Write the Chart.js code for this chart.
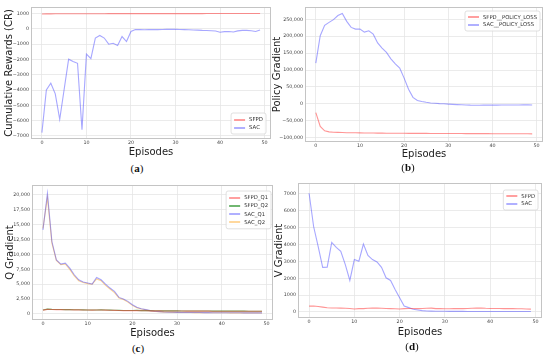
<!DOCTYPE html>
<html>
<head>
<meta charset="utf-8">
<script src="https://cdn.jsdelivr.net/npm/chart.js@4.4.1/dist/chart.umd.min.js"></script>
<style>
  html,body{margin:0;padding:0;background:#fff;}
  body{width:550px;height:356px;position:relative;overflow:hidden;}
  canvas{position:absolute;}
  .cap{position:absolute;font-family:"Liberation Serif","DejaVu Serif",serif;font-size:11px;color:#111;transform:translate(-50%,-50%);white-space:nowrap;}
</style>
</head>
<body>
<canvas id="ca" width="275" height="158" style="left:0;top:0"></canvas>
<canvas id="cb" width="282" height="160" style="left:268px;top:0"></canvas>
<canvas id="cc" width="275" height="161" style="left:0;top:178px"></canvas>
<canvas id="cd" width="282" height="160" style="left:268px;top:178px"></canvas>
<div class="cap" style="left:137px;top:168px">(<b>a</b>)</div>
<div class="cap" style="left:408px;top:167px">(<b>b</b>)</div>
<div class="cap" style="left:138px;top:348px">(<b>c</b>)</div>
<div class="cap" style="left:412px;top:346px">(<b>d</b>)</div>
<script>
// ---------- DATA ----------
const episodes = [0,1,2,3,4,5,6,7,8,9,10,11,12,13,14,15,16,17,18,19,20,21,22,23,24,25,26,27,28,29,30,31,32,33,34,35,36,37,38,39,40,41,42,43,44,45,46,47,48,49];
const xTicks = [0,10,20,30,40,50];

// (a) Cumulative Rewards
const sfpdReward = [975,980,982,985,985,987,988,988,990,990,990,992,992,993,993,994,994,995,995,995,996,996,996,997,997,997,998,998,998,998,999,999,999,1000,1000,1000,1000,1001,1001,1001,1002,1002,1002,1003,1003,1003,1004,1004,1005,1005];
const sacReward = [-6780,-3990,-3550,-4250,-5910,-3950,-1980,-2130,-2250,-6600,-1650,-1950,-600,-430,-600,-1000,-940,-1090,-500,-830,-170,-40,-50,-55,-50,-45,-50,-40,-35,-30,-20,-40,-50,-60,-70,-80,-100,-110,-120,-140,-220,-180,-170,-200,-130,-100,-100,-120,-170,-80];
const yTicksA = [-7000,-6000,-5000,-4000,-3000,-2000,-1000,0,1000];

// (b) Policy Gradient
const sfpdPolicy = [-26000,-67000,-80000,-83000,-84000,-84500,-85000,-85500,-85500,-85800,-86000,-86200,-86400,-86500,-86600,-86800,-87000,-87000,-87200,-87300,-87300,-87400,-87500,-87500,-87600,-87600,-87700,-87700,-87800,-87800,-87900,-87900,-88000,-88000,-88100,-88100,-88200,-88200,-88300,-88300,-88400,-88400,-88500,-88500,-88600,-88600,-88700,-88700,-88800,-88900];
const sacPolicy = [120500,201600,232000,241000,249000,261000,267000,244000,226000,221000,221000,212000,216000,206000,180000,165000,152000,133000,118000,106000,76000,43000,19000,10000,7000,4500,2500,1500,500,0,-1000,-1800,-2500,-3000,-3500,-4000,-4200,-4200,-4000,-4000,-3800,-3800,-3600,-3500,-3500,-3500,-3400,-3300,-3300,-3400];
const yTicksB = [-100000,-50000,0,50000,100000,150000,200000,250000];

// (c) Q Gradient
const sfpdQ1 = [650,780,760,740,730,720,710,700,690,680,660,650,660,670,650,630,600,580,570,560,560,570,550,540,530,520,520,510,510,500,500,500,490,490,490,480,480,480,470,470,470,470,460,460,460,460,450,450,450,450];
const sfpdQ2 = [680,820,780,760,750,740,730,720,710,700,680,670,680,690,670,650,620,600,590,580,590,600,570,560,550,540,540,530,530,520,520,515,510,510,505,500,500,495,490,490,490,485,480,480,475,475,470,470,470,465];
const sacQ1 = [14130,20280,12180,9100,8380,8550,7710,6590,5750,5360,5200,5030,6150,5750,5030,4360,3800,2790,2510,2120,1560,1120,890,730,560,450,390,330,300,280,270,260,250,250,240,240,230,230,220,220,210,210,200,200,200,190,190,190,180,180];
const sacQ2 = [14400,19600,11900,9000,8300,8400,7500,6400,5600,5300,5100,5000,5900,5600,4800,4200,3600,2700,2450,2000,1450,1050,850,700,540,430,370,320,290,270,260,250,240,240,230,230,220,220,210,210,200,200,195,195,190,185,185,180,180,175];
const yTicksC = [0,2500,5000,7500,10000,12500,15000,17500,20000];

// (d) V Gradient
const sfpdV = [350,360,330,290,250,240,240,230,220,210,180,200,200,220,230,230,220,210,200,190,180,200,210,210,200,210,220,230,200,200,190,190,200,210,200,210,220,230,240,220,210,210,210,200,200,200,190,190,180,170];
const sacV = [7040,5070,3890,2650,2660,4130,3830,3600,2810,1870,3110,3010,4030,3360,3110,2970,2650,2030,1870,1340,850,350,260,160,120,80,60,50,45,40,40,38,36,35,34,33,32,32,31,30,30,30,29,29,28,28,28,27,27,27];
const yTicksD = [0,1000,2000,3000,4000,5000,6000,7000];

// ---------- STYLE ----------
const RED = 'rgba(255,60,60,0.55)';
const BLUE = 'rgba(60,60,255,0.45)';
const GREEN = 'rgba(30,140,30,0.7)';
const ORANGE = 'rgba(255,170,40,0.5)';
const FONT = '"DejaVu Sans", sans-serif';
const MINUS = '\u2212';

const framePlugin = {
  id: 'frame',
  beforeDatasetsDraw(chart) {
    const {ctx, chartArea: a} = chart;
    ctx.save();
    ctx.strokeStyle = '#c4c4c4';
    ctx.lineWidth = 1;
    ctx.strokeRect(Math.round(a.left) + 0.5, Math.round(a.top) + 0.5, Math.round(a.right - a.left) - 1, Math.round(a.bottom - a.top) - 1);
    ctx.restore();
  }
};

const legendPlugin = {
  id: 'inlegend',
  afterDraw(chart, args, o) {
    const {ctx, chartArea: a} = chart;
    const ds = chart.data.datasets;
    ctx.save();
    ctx.font = o.fontSize + 'px ' + FONT;
    const handle = 11, gap = 4, padX = 3, padY = 2.5, rowH = o.rowH;
    const tw = Math.max(...ds.map(d => ctx.measureText(d.label).width));
    const w = padX * 2 + handle + gap + tw;
    const h = padY * 2 + rowH * ds.length;
    const x = o.right ? a.right - o.dx - w : a.left + o.dx;
    const y = o.bottom ? a.bottom - o.dy - h : a.top + o.dy;
    ctx.fillStyle = 'rgba(255,255,255,0.85)';
    ctx.strokeStyle = '#d8d8d8';
    ctx.lineWidth = 0.8;
    ctx.beginPath();
    ctx.roundRect(x, y, w, h, 2);
    ctx.fill();
    ctx.stroke();
    ds.forEach((d, i) => {
      const cy = y + padY + rowH * (i + 0.5);
      ctx.strokeStyle = d.borderColor;
      ctx.lineWidth = 1.8;
      ctx.beginPath();
      ctx.moveTo(x + padX, Math.round(cy));
      ctx.lineTo(x + padX + handle, Math.round(cy));
      ctx.stroke();
      ctx.fillStyle = '#333';
      ctx.textBaseline = 'middle';
      ctx.fillText(d.label, x + padX + handle + gap, cy + 0.3);
    });
    ctx.restore();
  }
};

function fmtComma(v) {
  const s = Math.abs(v).toLocaleString('en-US');
  return v < 0 ? MINUS + s : s;
}
function fmtPlain(v) {
  return v < 0 ? MINUS + Math.abs(v) : String(v);
}

function makeChart(id, cfg) {
  const el = document.getElementById(id);
  const W = el.width, H = el.height;
  const datasets = cfg.series.map(s => ({
    label: s.label, data: s.data, borderColor: s.color, backgroundColor: s.color,
    borderWidth: 1.1, pointRadius: 0, tension: 0, fill: false
  }));
  return new Chart(el, {
    type: 'line',
    data: { labels: episodes, datasets },
    plugins: [framePlugin, legendPlugin],
    options: {
      responsive: false, animation: false, devicePixelRatio: 1,
      layout: { padding: { left: 0, top: cfg.plotTop, right: W - cfg.plotRight, bottom: 0 } },
      plugins: {
        legend: { display: false }, tooltip: { enabled: false },
        inlegend: cfg.legend
      },
      scales: {
        x: {
          type: 'linear', min: -2.45, max: 51.45,
          afterBuildTicks: s => { s.ticks = xTicks.map(v => ({ value: v })); },
          afterFit: s => { s.height = H - cfg.plotBottom; },
          grid: { color: '#e6e6e6', lineWidth: 0.8, drawTicks: false },
          border: { display: false },
          ticks: { font: { family: FONT, size: 4.8 }, color: '#444', padding: 1, maxRotation: 0, callback: v => String(v) },
          title: { display: true, text: 'Episodes', font: { family: FONT, size: 10 }, color: '#222', padding: { top: 0, bottom: 0 } }
        },
        y: {
          type: 'linear', min: cfg.yMin, max: cfg.yMax,
          afterBuildTicks: s => { s.ticks = cfg.yTicks.map(v => ({ value: v })); },
          afterFit: s => { s.width = cfg.plotLeft; },
          grid: { color: '#e6e6e6', lineWidth: 0.8, drawTicks: false },
          border: { display: false },
          ticks: { font: { family: FONT, size: 4.8 }, color: '#444', padding: 2, callback: cfg.fmt },
          title: { display: true, text: cfg.yTitle, font: { family: FONT, size: 10 }, color: '#222', padding: { top: cfg.yTitlePad, bottom: 0 } }
        }
      }
    }
  });
}

makeChart('ca', {
  plotLeft: 31, plotRight: 271, plotTop: 7, plotBottom: 139,
  yMin: -7200, yMax: 1430, yTicks: yTicksA, fmt: fmtPlain,
  yTitle: 'Cumulative Rewards (CR)', yTitlePad: 3.8,
  legend: { right: true, bottom: true, dx: 5, dy: 5, rowH: 8, fontSize: 5.4 },
  series: [
    { label: 'SFPD', data: sfpdReward, color: RED },
    { label: 'SAC', data: sacReward, color: BLUE }
  ]
});

makeChart('cb', {
  plotLeft: 37, plotRight: 275, plotTop: 7, plotBottom: 142,
  yMin: -113000, yMax: 286400, yTicks: yTicksB, fmt: fmtComma,
  yTitle: 'Policy Gradient', yTitlePad: 3.3,
  legend: { right: true, bottom: false, dx: 3, dy: 4, rowH: 7.5, fontSize: 5.3 },
  series: [
    { label: 'SFPD__POLICY_LOSS', data: sfpdPolicy, color: RED },
    { label: 'SAC__POLICY_LOSS', data: sacPolicy, color: BLUE }
  ]
});

makeChart('cc', {
  plotLeft: 32, plotRight: 273, plotTop: 7, plotBottom: 142,
  yMin: -1010, yMax: 21680, yTicks: yTicksC, fmt: fmtComma,
  yTitle: 'Q Gradient', yTitlePad: 4.8,
  legend: { right: true, bottom: false, dx: 2, dy: 6, rowH: 8.2, fontSize: 5.3 },
  series: [
    { label: 'SFPD_Q1', data: sfpdQ1, color: RED },
    { label: 'SFPD_Q2', data: sfpdQ2, color: GREEN },
    { label: 'SAC_Q1', data: sacQ1, color: BLUE },
    { label: 'SAC_Q2', data: sacQ2, color: ORANGE }
  ]
});

makeChart('cd', {
  plotLeft: 30, plotRight: 274, plotTop: 5, plotBottom: 140,
  yMin: -356, yMax: 7650, yTicks: yTicksD, fmt: fmtPlain,
  yTitle: 'V Gradient', yTitlePad: 5.3,
  legend: { right: true, bottom: false, dx: 4, dy: 7, rowH: 7.5, fontSize: 5.3 },
  series: [
    { label: 'SFPD', data: sfpdV, color: RED },
    { label: 'SAC', data: sacV, color: BLUE }
  ]
});
</script>
</body>
</html>
